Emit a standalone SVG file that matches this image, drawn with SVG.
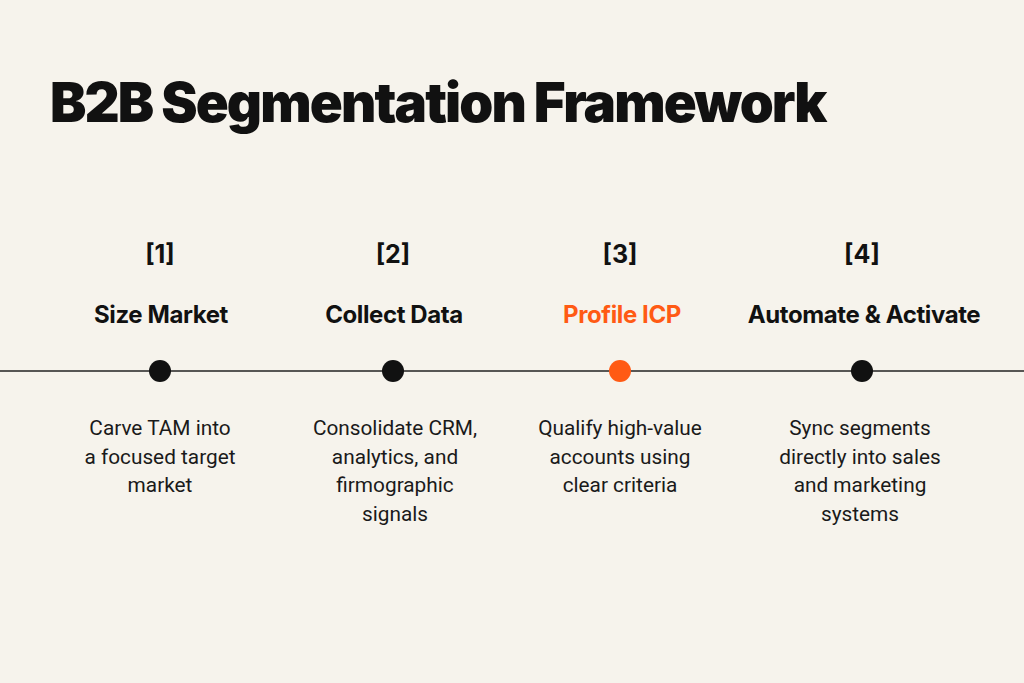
<svg xmlns="http://www.w3.org/2000/svg" width="1024" height="683" viewBox="0 0 1024 683">
<style>
.title{font-family:Inter,Roboto,"Liberation Sans",sans-serif;font-weight:900;font-size:54.5px;fill:#111;letter-spacing:-1.9px}
.num{font-family:Inter,Roboto,"Liberation Sans",sans-serif;font-weight:700;font-size:25px;fill:#111;text-anchor:middle}
.head{font-family:Inter,Roboto,"Liberation Sans",sans-serif;font-weight:700;font-size:24px;fill:#111;text-anchor:middle;letter-spacing:-0.4px}
.desc{font-family:Roboto,"Liberation Sans",sans-serif;font-weight:400;font-size:20.8px;fill:#1a1a1a;text-anchor:middle}
.dot{fill:#111}
.accent{fill:#FF5A14}
</style>
<rect width="1024" height="683" fill="#F6F3EC"/>
<text class="title" x="50" y="122">B2B Segmentation Framework</text>
<g id="connectors">
<line x1="0" y1="371" x2="1024" y2="371" stroke="#222" stroke-width="1.6"/>
</g>
<g id="step1">
<text class="num" x="160" y="263">[1]</text>
<text class="head" x="161" y="323">Size Market</text>
<circle class="dot" cx="160" cy="371" r="11"/>
<text class="desc" x="160" y="435">Carve TAM into</text>
<text class="desc" x="160" y="464">a focused target</text>
<text class="desc" x="160" y="492">market</text>
</g>
<g id="step2">
<text class="num" x="393" y="263">[2]</text>
<text class="head" x="394" y="323">Collect Data</text>
<circle class="dot" cx="393" cy="371" r="11"/>
<text class="desc" x="395" y="435">Consolidate CRM,</text>
<text class="desc" x="395" y="464">analytics, and</text>
<text class="desc" x="395" y="492">firmographic</text>
<text class="desc" x="395" y="521">signals</text>
</g>
<g id="step3">
<text class="num" x="620" y="263">[3]</text>
<text class="head accent" x="622" y="323">Profile ICP</text>
<circle class="accent" cx="620" cy="371" r="11"/>
<text class="desc" x="620" y="435">Qualify high-value</text>
<text class="desc" x="620" y="464">accounts using</text>
<text class="desc" x="620" y="492">clear criteria</text>
</g>
<g id="step4">
<text class="num" x="862" y="263">[4]</text>
<text class="head" x="864" y="323">Automate &amp; Activate</text>
<circle class="dot" cx="862" cy="371" r="11"/>
<text class="desc" x="860" y="435">Sync segments</text>
<text class="desc" x="860" y="464">directly into sales</text>
<text class="desc" x="860" y="492">and marketing</text>
<text class="desc" x="860" y="521">systems</text>
</g>
</svg>
